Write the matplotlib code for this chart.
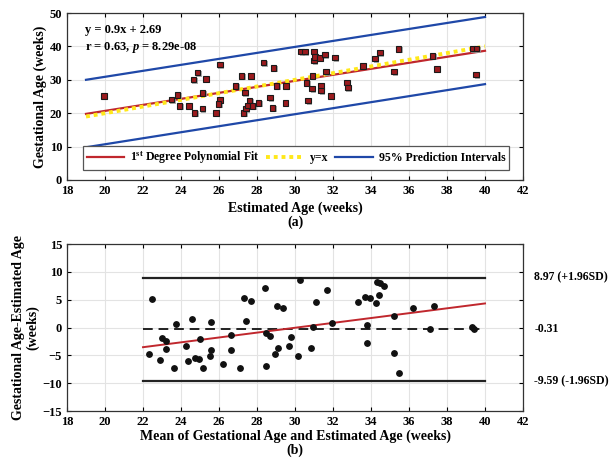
import matplotlib
matplotlib.use("Agg")
import matplotlib.pyplot as plt
import matplotlib.patheffects as pe
import numpy as np

plt.rcParams['font.family'] = ['Liberation Serif', 'DejaVu Serif']
plt.rcParams['font.weight'] = 'bold'
plt.rcParams['mathtext.fontset'] = 'custom'
plt.rcParams['mathtext.rm'] = 'Liberation Serif:bold'
plt.rcParams['mathtext.bf'] = 'Liberation Serif:bold'
plt.rcParams['mathtext.it'] = 'Liberation Serif:italic:bold'

# (a) estimated vs gestational age
est_age = [19.96, 23.5, 23.82, 23.92, 24.43, 24.66, 24.87, 24.72, 25.14, 25.12,
           25.33, 25.83, 26.04, 26.04, 25.97, 26.86, 27.18, 27.67, 27.36, 27.30,
           27.41, 27.50, 27.60, 27.76, 28.08, 28.34, 28.68, 28.82, 28.87, 29.03,
           29.49, 29.52, 30.31, 30.52, 31.0, 31.0, 31.05, 31.32, 31.58, 30.91,
           30.61, 30.89, 30.68, 31.37, 31.37, 31.63, 31.9, 32.11, 32.74, 32.78,
           33.59, 34.22, 34.48, 35.22, 35.45, 37.23, 37.48, 39.34, 39.55, 39.53]
gest_age = [25.2, 24.1, 25.5, 22.2, 22.2, 30.1, 32.2, 20.1, 26.1, 21.4,
            30.3, 20.1, 34.6, 24.0, 22.7, 28.2, 31.2, 31.2, 26.2, 20.1,
            21.4, 22.3, 23.8, 22.2, 23.1, 35.2, 24.7, 21.6, 33.6, 28.2,
            23.1, 28.2, 38.5, 38.5, 38.5, 35.8, 36.8, 36.6, 37.6, 31.2,
            29.1, 27.4, 23.8, 28.1, 26.8, 32.5, 25.2, 36.7, 29.2, 27.7,
            34.2, 36.4, 38.2, 32.5, 39.3, 37.2, 33.2, 39.4, 39.4, 31.6]
fit_x = [19, 40]
fit_y = [19.79, 38.69]
pi_upper = [30.0, 48.8]
pi_lower = [9.8, 28.7]

# (b) Bland-Altman
ba_mean = [22.34, 22.46, 22.89, 22.99, 23.2, 23.19, 23.63, 23.73, 24.26, 24.38,
           24.6, 24.74, 24.95, 24.98, 25.14, 25.53, 25.56, 25.6, 26.21, 26.62,
           26.65, 27.08, 27.31, 27.41, 27.69, 28.43, 28.45, 28.49, 28.71, 28.96,
           29.07, 29.08, 29.37, 29.67, 29.77, 30.18, 30.25, 30.86, 30.93, 31.11,
           31.71, 31.95, 33.29, 33.7, 33.77, 33.8, 33.96, 34.28, 34.33, 34.45,
           34.42, 34.68, 35.21, 35.23, 35.46, 36.21, 37.11, 37.32, 39.3, 39.44]
ba_diff = [-4.74, 5.04, -5.82, -1.8, -2.34, -3.84, -7.26, 0.54, -3.3, -6.0,
           1.56, -5.52, -5.58, -2.04, -7.32, -5.1, 0.9, -3.96, -6.48, -4.08,
           -1.32, -7.2, 5.34, 1.2, 4.8, 7.14, -6.9, -0.96, -1.5, -4.74,
           3.9, -3.6, 3.48, -3.3, -1.62, -5.16, 8.52, -3.72, 0.06, 4.56,
           6.78, 0.72, 4.62, 5.4, 0.42, -2.76, 5.28, 4.44, 8.1, 7.98,
           5.76, 7.5, -4.5, 2.1, -8.16, 3.54, -0.24, 3.78, 0.06, -0.18]
ba_x = [22, 40]
ba_fit = [-3.54, 4.32]
mean_diff = -0.31
upper_loa = 8.97
lower_loa = -9.59

red = '#C0272D'
blue = '#1F48A8'
yellow = '#FFE81A'
fs = 9

fig = plt.figure(figsize=(6.09, 4.65), dpi=100)
ax1 = fig.add_axes([67/609, 1-180/465, 456/609, 167/465])
ax2 = fig.add_axes([67/609, 1-411/465, 456/609, 167/465])

for ax in (ax1, ax2):
    ax.grid(True, color='#e3e3e3', linewidth=0.8)
    ax.set_axisbelow(True)
    ax.tick_params(direction='in', top=True, right=True, length=3, labelsize=fs, width=0.8)
    for s in ax.spines.values():
        s.set_linewidth(0.9)
        s.set_color('#333333')
    ax.set_xlim(18, 42)
    ax.set_xticks(np.arange(18, 43, 2))

# top panel
l1, = ax1.plot(fit_x, fit_y, color=red, lw=1.6, label=r'1$^{\mathrm{st}}$ Degree Polynomial Fit')
l2, = ax1.plot(fit_x, fit_x, color=yellow, lw=2.8, ls=(0, (1, 1)), label='y=x')
l3, = ax1.plot(fit_x, pi_upper, color=blue, lw=1.6, label='95% Prediction Intervals')
ax1.plot(fit_x, pi_lower, color=blue, lw=1.6)
ax1.plot(est_age, gest_age, ls='none', marker='s', ms=4, mfc='#9B1B1E', mec='#1a1a1a', mew=0.8,
         path_effects=[pe.SimplePatchShadow(offset=(1, -1), shadow_rgbFace='#999999', alpha=0.8), pe.Normal()])
ax1.set_ylim(0, 50)
ax1.set_yticks(np.arange(0, 51, 10))
ax1.set_ylabel('Gestational Age (weeks)', fontsize=fs + 1, fontweight='bold', labelpad=2)
ax1.set_xlabel('Estimated Age (weeks)\n(a)', fontsize=fs + 1, fontweight='bold', labelpad=3, linespacing=1.1)
ax1.text(0.04, 0.898, 'y = 0.9x + 2.69', transform=ax1.transAxes, fontsize=fs, fontweight='bold', va='center')
ax1.text(0.04, 0.796, r'r = 0.63, $p$ = 8.29e-08', transform=ax1.transAxes, fontsize=fs, fontweight='bold',
         va='center')
leg = ax1.legend(handles=[l1, l2, l3], loc='lower left', bbox_to_anchor=(0.035, 0.06, 0.935, 0.1),
                 mode='expand', ncol=3, fontsize=fs - 0.5, frameon=True, fancybox=False,
                 handlelength=3.2, handletextpad=0.5, columnspacing=1.0, borderpad=0.3, borderaxespad=0)
leg.get_frame().set_edgecolor('#555555')
leg.get_frame().set_linewidth(0.9)
leg.get_frame().set_alpha(1)

# bottom panel
ax2.plot(ba_x, [upper_loa, upper_loa], color='#222222', lw=1.6)
ax2.plot(ba_x, [lower_loa, lower_loa], color='#222222', lw=1.6)
ax2.plot(ba_x, [mean_diff, mean_diff], color='#222222', lw=1.4, ls=(0, (5, 3)))
ax2.plot(ba_x, ba_fit, color=red, lw=1.4)
ax2.plot(ba_mean, ba_diff, ls='none', marker='o', ms=3.9, color='#111111')
ax2.set_ylim(-15, 15)
ax2.set_yticks(np.arange(-15, 16, 5))
ax2.set_ylabel('Gestational Age-Estimated Age\n(weeks)', fontsize=fs + 1, fontweight='bold', labelpad=2, linespacing=1.1)
ax2.set_xlabel('Mean of Gestational Age and Estimated Age (weeks)\n(b)', fontsize=fs + 1, fontweight='bold',
               labelpad=1, linespacing=1.1)
tr = ax2.get_yaxis_transform()
ax2.text(1.025, upper_loa, '%.2f (+1.96SD)' % upper_loa, transform=tr, fontsize=fs - 0.5, va='center', fontweight='bold')
ax2.text(1.025, mean_diff, '%.2f' % mean_diff, transform=tr, fontsize=fs - 0.5, va='center', fontweight='bold')
ax2.text(1.025, lower_loa, '%.2f (-1.96SD)' % lower_loa, transform=tr, fontsize=fs - 0.5, va='center', fontweight='bold')

fig.savefig('out.png', dpi=100)
